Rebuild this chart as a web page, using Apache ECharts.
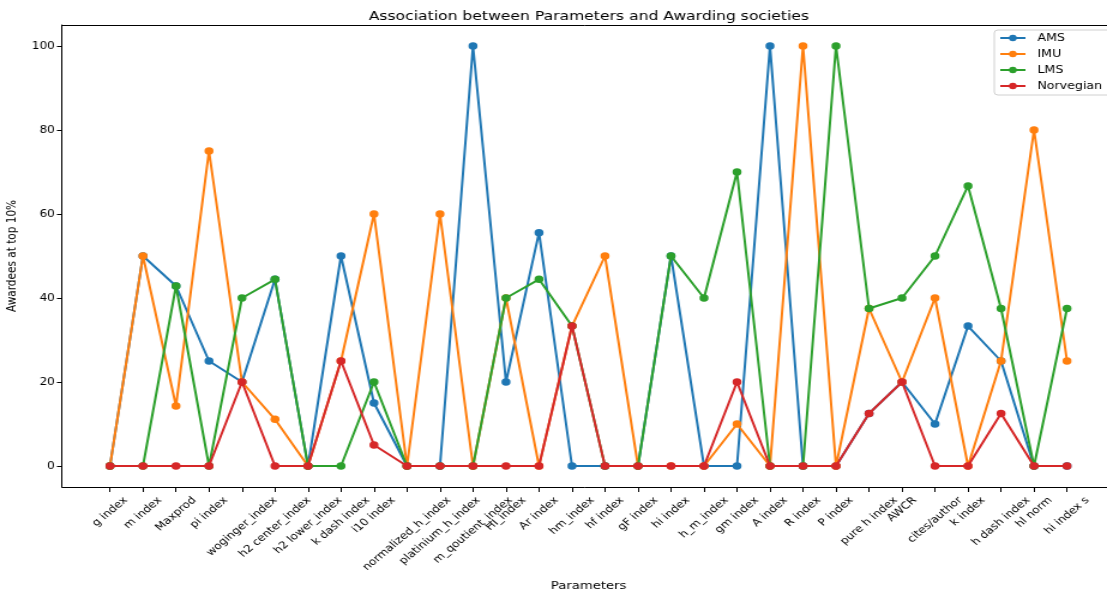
<!DOCTYPE html>
<html>
<head>
<meta charset="utf-8">
<script src="https://cdn.jsdelivr.net/npm/echarts@6/dist/echarts.min.js"></script>
<style>
html,body{margin:0;padding:0;background:#fff;overflow:hidden;width:1107px;height:595px;}
#chart{width:923px;height:595px;transform:scaleX(1.19935);transform-origin:0 0;}
</style>
</head>
<body>
<div id="chart"></div>
<script>
const categories = ["g index","m index","Maxprod","pi index","woginger_index","h2 center_index","h2 lower_index","k dash index","i10 index","normalized_h_index","platinium_h_index","m_qoutient_index","HI_index","Ar index","hm_index","hf index","gF index","hi index","h_m_index","gm index","A index","R index","P index","pure h index","AWCR","cites/author","k index","h dash index","hl norm","hi index s"];
const AMS = [0,50,42.86,25,20,44.44,0,50,15,0,0,100,20,55.56,0,0,0,50,0,0,100,0,0,12.5,20,10,33.33,25,0,0];
const IMU = [0,50,14.29,75,20,11.11,0,25,60,0,60,0,40,0,33.33,50,0,0,0,10,0,100,0,37.5,20,40,0,25,80,25];
const LMS = [0,0,42.86,0,40,44.44,0,0,20,0,0,0,40,44.44,33.33,0,0,50,40,70,0,0,100,37.5,40,50,66.67,37.5,0,37.5];
const Norvegian = [0,0,0,0,20,0,0,25,5,0,0,0,0,0,33.33,0,0,0,0,20,0,0,0,12.5,20,0,0,12.5,0,0];
const yTicks = [0,20,40,60,80,100];
const seriesNames = ["AMS","IMU","LMS","Norvegian"];
const seriesValues = [AMS, IMU, LMS, Norvegian];
const colors = ["#1f77b4","#ff7f0e","#2ca02c","#d62728"];
const xTicks = categories.map((c,i)=>i);

const font = "DejaVu Sans";
const tickFont = 10;
const X_MIN = -1.4545, X_MAX = 30.212;
const chart = echarts.init(document.getElementById('chart'));
chart.setOption({
  animation: false,
  backgroundColor: '#fff',
  color: colors,
  title: {
    text: 'Association between Parameters and Awarding societies',
    left: 486, top: 5, textAlign: 'center',
    textStyle: {fontFamily: font, fontSize: 13, fontWeight: 'normal', color: '#000'}
  },
  legend: {
    orient: 'vertical', left: 829, top: 30,
    padding: [2, 8, 3, 4],
    itemWidth: 21, itemHeight: 8, itemGap: 4,
    borderColor: '#d0d0d0', borderWidth: 1, borderRadius: 3,
    backgroundColor: '#fff',
    textStyle: {fontFamily: font, fontSize: 10.5, lineHeight: 12, color: '#000', padding: [0,0,0,5]},
    data: seriesNames
  },
  grid: {left: 51.67, right: 0, top: 25, bottom: 108, show: false, containLabel: false, outerBoundsMode: 'none'},
  xAxis: [{
    type: 'value', min: X_MIN, max: X_MAX,
    name: 'Parameters', nameLocation: 'middle', nameGap: 94,
    nameTextStyle: {fontFamily: font, fontSize: 11, color: '#000', padding: [0, 0, 0, 7]},
    axisLine: {show: true, onZero: false, lineStyle: {color: '#000', width: 1}},
    axisTick: {show: true, length: 5, lineStyle: {color: '#000'}, customValues: xTicks},
    axisLabel: {show: false},
    splitLine: {show: false}
  }, {
    type: 'value', min: X_MIN, max: X_MAX, position: 'top',
    axisLine: {show: true, onZero: false, lineStyle: {color: '#000', width: 1}},
    axisTick: {show: false}, axisLabel: {show: false}, splitLine: {show: false}
  }],
  yAxis: {
    type: 'value', min: -5, max: 105,
    name: 'Awardees at top 10%', nameLocation: 'middle', nameGap: 31,
    nameTextStyle: {fontFamily: font, fontSize: 10.5, color: '#000'},
    axisLine: {show: true, onZero: false, lineStyle: {color: '#000', width: 1}},
    axisTick: {show: true, length: 4.2, lineStyle: {color: '#000'}, customValues: yTicks},
    axisLabel: {show: true, fontFamily: font, fontSize: tickFont, color: '#000', margin: 6, customValues: yTicks},
    splitLine: {show: false}
  },
  series: seriesNames.map((n, k) => ({
    name: n, type: 'line', xAxisIndex: 0,
    data: seriesValues[k].map((v, i) => [i, v]),
    symbol: 'circle', symbolSize: 7.5,
    lineStyle: {width: 2, color: colors[k]},
    itemStyle: {color: colors[k]},
    z: 2 + k
  }))
});

// x tick labels rotated 45deg, bounding box centred under each tick (matplotlib style)
const ctx = document.createElement('canvas').getContext('2d');
const fontStr = tickFont + 'px "DejaVu Sans"';
ctx.font = fontStr;
const labels = categories.map((c, i) => {
  const p = chart.convertToPixel({gridIndex: 0}, [i, -5]);
  const L = ctx.measureText(c).width;
  const boxH = (L + 1.05 * tickFont) / Math.SQRT2;
  return {
    type: 'text', silent: true,
    x: p[0], y: p[1] + 8 + boxH / 2,
    rotation: Math.PI / 4,
    style: {text: c, font: fontStr, fill: '#000', align: 'center', verticalAlign: 'middle'}
  };
});
chart.setOption({graphic: labels});
</script>
</body>
</html>
